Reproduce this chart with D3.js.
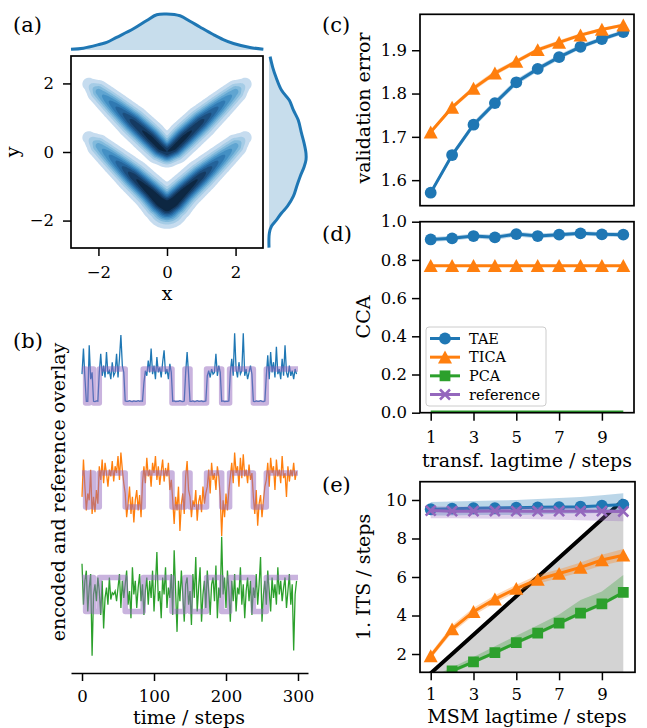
<!DOCTYPE html>
<html><head><meta charset="utf-8">
<script src="https://cdn.jsdelivr.net/npm/d3@7"></script>
<style>body{margin:0;background:#fff}svg{display:block}</style>
</head><body><svg id="fig" width="647" height="728"></svg>
<script>
// ================= DATA =================
// (a) density model: centre lines of the two V-shaped branches
const branchX = [-2.28,-2.0,-1.5,-1.0,-0.5,-0.2,0,0.2,0.5,1.0,1.5,2.0,2.28];
const upperY  = [1.98,1.76,1.32,0.88,0.42,0.12,0.0,0.12,0.42,0.88,1.32,1.76,1.98];
const upperW  = [0.13,0.38,0.62,0.85,0.95,0.95,0.9,0.95,0.95,0.85,0.62,0.38,0.13];
const upperS  = [0.14,0.17,0.19,0.21,0.21,0.2,0.19,0.2,0.21,0.21,0.19,0.17,0.14];
const lowerY  = [0.42,0.18,-0.26,-0.70,-1.16,-1.46,-1.58,-1.46,-1.16,-0.70,-0.26,0.18,0.42];
const lowerW  = [0.13,0.38,0.62,0.88,1.0,1.05,1.05,1.05,1.0,0.88,0.62,0.38,0.13];
const lowerS  = [0.14,0.17,0.19,0.21,0.22,0.24,0.27,0.24,0.22,0.21,0.19,0.17,0.14];
const kdeLevels = [0.05,0.14,0.23,0.32,0.41,0.50,0.59,0.68,0.77,0.86];
const kdeColors = ["#c6dcef","#a5cce6","#82badc","#60a5d1","#4490c4","#3079b2","#24639a","#1c4e7e","#153a61","#0d2742"];
// marginals
const margTopX = [-2.80,-2.44,-1.95,-1.76,-1.47,-0.98,-0.59,-0.30,-0.01,0.38,0.67,0.96,1.35,1.64,1.94,2.42,2.81];
const margTopD = [0.02,0.05,0.16,0.21,0.35,0.59,0.82,0.98,1.0,0.95,0.8,0.64,0.43,0.29,0.18,0.07,0.02];
const margRightY = [2.78,2.47,2.18,1.80,1.51,1.22,0.93,0.54,0.25,-0.04,-0.23,-0.43,-0.72,-1.00,-1.29,-1.58,-1.78,-1.97,-2.16,-2.36,-2.79];
const margRightD = [0.03,0.1,0.19,0.34,0.55,0.66,0.79,0.88,0.95,1.0,1.0,0.95,0.84,0.75,0.66,0.5,0.34,0.21,0.07,0.01,0.0];
const ticksXY = [-2,0,2];

// (b) time series (every 2nd step), reference state changes
const timeStep = 2;
const encTAE = [0.85,1.6,0.75,0.05,0.05,1.7,0.7,0.9,0.05,0.04,0.06,0.05,
0.9,1.45,0.8,1.1,0.75,1.5,0.85,0.95,0.7,1.2,0.8,0.9,1.45,0.75,1.3,2.0,1.1,0.9,
0.06,0.05,0.05,0.07,0.05,0.04,0.06,0.05,0.05,0.07,0.05,0.06,0.05,
0.6,0.95,0.8,1.25,0.9,1.6,0.85,1.1,0.7,1.35,0.9,1.05,0.75,1.2,1.55,0.85,1.0,0.7,1.15,0.9,
0.05,0.06,0.04,0.05,0.05,0.07,0.05,0.04,0.06,
0.9,1.5,0.85,
0.05,0.05,0.06,0.04,0.05,0.07,0.05,0.05,0.06,0.04,0.05,0.06,
0.8,0.95,0.75,1.0,0.85,0.9,1.45,0.8,1.1,0.9,
0.05,0.06,0.04,0.05,0.05,0.06,
0.9,1.3,0.8,2.05,1.0,0.75,1.2,0.85,0.95,2.05,0.8,1.0,0.7,0.9,1.1,0.85,
0.05,0.04,0.06,0.05,0.05,0.07,0.05,0.04,0.06,
0.8,1.4,0.7,1.5,0.9,1.2,0.75,1.65,0.85,1.0,0.7,1.3,0.8,1.7,0.9,0.75,1.1,0.8,0.95,0.7,1.0,0.85];
const encTICA = [0.3,1.4,0.6,-0.1,0.4,0.2,1.1,-0.2,0.3,-0.15,0.5,0.1,
1.2,0.8,1.4,0.7,1.3,1.0,0.6,1.1,0.9,1.35,0.75,1.2,1.0,1.5,0.8,1.6,1.1,0.7,
0.4,-0.3,0.1,0.6,-0.2,0.3,-0.45,0.2,0.5,-0.1,0.35,-0.3,0.7,
1.2,0.7,1.45,0.9,1.1,0.6,1.3,1.0,1.5,0.8,1.2,0.65,1.05,1.4,0.75,1.15,0.9,1.3,0.5,0.8,
0.2,-0.5,0.3,-0.1,0.6,-0.7,0.1,0.4,-0.2,
0.9,1.35,0.5,
0.3,-0.3,0.2,0.0,0.5,-0.4,0.15,0.35,-0.15,0.6,0.1,0.4,
0.6,1.1,0.4,1.3,0.8,1.0,0.5,1.2,0.9,0.3,
-0.85,0.2,-0.3,0.4,-0.1,0.5,
0.9,1.3,0.7,1.6,1.0,1.2,0.6,1.45,0.85,1.55,0.9,1.1,0.7,1.25,0.8,1.0,
0.3,-0.2,0.5,-0.55,0.1,0.35,-0.3,0.2,0.6,
0.8,1.3,0.6,1.45,1.0,1.2,0.5,1.4,0.9,1.1,0.7,1.5,0.85,1.0,0.3,1.2,0.75,1.1,0.9,1.3,0.8,1.05];
const encPCA = [1.4,0.2,0.9,1.2,0.0,0.7,1.1,-1.3,0.5,0.8,
0.3,1.0,0.6,-0.1,0.9,-0.5,0.4,0.7,0.2,1.0,
0.35,0.55,0.5,0.6,0.3,0.7,1.1,0.1,0.9,0.4,
0.8,1.2,0.2,0.6,-0.2,1.3,0.5,0.9,0.1,0.7,
1.1,0.3,0.8,-0.1,0.6,1.0,0.2,0.9,0.4,1.2,
0.0,0.8,1.75,0.3,0.6,-0.2,1.0,0.5,1.3,0.1,
0.7,0.4,1.1,-0.1,1.8,0.6,-0.6,0.9,0.3,1.2,
0.5,-0.3,0.8,1.0,0.2,0.6,-0.4,1.1,0.4,1.6,
0.0,0.7,1.3,-0.3,0.5,0.9,0.1,1.2,0.6,-0.1,
0.8,1.0,0.3,1.35,-0.2,0.7,0.4,2.2,0.5,1.0,
0.1,1.2,0.6,-0.3,0.9,0.3,1.1,0.0,0.7,0.5,
1.3,0.2,0.8,-0.2,0.6,1.0,0.3,0.9,-0.1,0.7,
0.4,1.1,0.2,0.8,1.6,-0.3,0.5,0.9,0.2,1.2,
0.6,0.0,1.0,0.4,0.8,0.2,1.3,0.5,0.9,0.3,
0.7,1.0,0.1,0.6,1.1,0.2,0.8,-1.15,0.5,0.9];
const refChangeT = [0,5,10,16,24,60,85,125,143,150,173,194,205,238,256,300];
const refState   = [1,0,1,0,1,0,1,0,1,0,1,0,1,0,1,1];
const traceOffset = [0,-3.06,-6.13];
const ticksTime = [0,100,200,300];

// (c)-(e)
const lags = [1,2,3,4,5,6,7,8,9,10];
const ticksLag = [1,3,5,7,9];
const valTAE  = [1.571,1.658,1.728,1.778,1.826,1.857,1.884,1.908,1.926,1.942];
const valTAEsd = [0.005,0.006,0.007,0.007,0.007,0.006,0.006,0.005,0.005,0.005];
const valTICA = [1.711,1.768,1.812,1.847,1.874,1.901,1.918,1.935,1.948,1.958];
const valTICAsd = [0.004,0.005,0.006,0.006,0.005,0.005,0.005,0.004,0.004,0.004];
const ticksVal = [1.6,1.7,1.8,1.9];
const ccaTAE  = [0.907,0.913,0.925,0.918,0.935,0.925,0.932,0.939,0.934,0.932];
const ccaTAEsd = [0.012,0.013,0.012,0.014,0.012,0.013,0.012,0.011,0.012,0.012];
const ccaTICA = [0.77,0.77,0.77,0.77,0.77,0.77,0.77,0.77,0.77,0.77];
const ccaPCA  = [0.004,0.004,0.004,0.004,0.004,0.004,0.004,0.004,0.004,0.004];
const ticksCCA = [0,0.2,0.4,0.6,0.8,1.0];
const itsTAE  = [9.52,9.55,9.57,9.58,9.6,9.62,9.63,9.65,9.7,9.76];
const itsTAElo = [9.2,9.2,9.22,9.22,9.22,9.25,9.28,9.3,9.32,9.35];
const itsTAEhi = [9.9,9.92,9.95,9.97,10.0,10.05,10.1,10.15,10.25,10.35];
const itsTICA = [1.9,3.3,4.2,4.85,5.4,5.87,6.18,6.5,6.88,7.13];
const itsTICAlo = [1.75,3.1,4.0,4.65,5.2,5.65,5.95,6.25,6.6,6.85];
const itsTICAhi = [2.05,3.5,4.4,5.05,5.6,6.1,6.4,6.75,7.15,7.45];
const itsPCA  = [0.6,1.12,1.59,2.07,2.59,3.08,3.6,4.12,4.6,5.2];
const itsPCAlo = [0.5,1.02,1.5,1.97,2.49,2.98,3.5,4.02,4.5,5.1];
const itsPCAhi = [0.8,1.3,1.85,2.4,2.95,3.5,4.05,4.8,5.25,6.1];
const itsRef  = [9.45,9.42,9.42,9.43,9.42,9.42,9.42,9.42,9.42,9.40];
const itsReflo = [9.05,9.05,9.04,9.03,9.02,9.0,8.98,8.95,8.92,8.9];
const itsRefhi = [9.68,9.66,9.65,9.65,9.64,9.63,9.62,9.6,9.55,9.5];
const ticksITS = [2,4,6,8,10];
const seriesNames = ["TAE","TICA","PCA","reference"];
const seriesColors = ["#1f77b4","#ff7f0e","#2ca02c","#9467bd"];
const seriesMarkers = ["circle","triangle","square","x"];

// ================= DRAWING =================
const svg = d3.select("#fig");
const FONT = '"DejaVu Serif", serif';
const TICKFS = 16.5, LABFS = 19, PANFS = 21;
const LW = 3;
let clipId = 0;
function clip(x0,y0,x1,y1){
  const id = "clip"+(clipId++);
  svg.append("clipPath").attr("id",id).append("rect").attr("x",x0).attr("y",y0).attr("width",x1-x0).attr("height",y1-y0);
  return "url(#"+id+")";
}
function frame(x0,y0,x1,y1){
  svg.append("rect").attr("x",x0).attr("y",y0).attr("width",x1-x0).attr("height",y1-y0)
    .attr("fill","none").attr("stroke","#000").attr("stroke-width",1.7);
}
function styleAxis(g, keepDomain){
  g.attr("font-family",FONT).attr("font-size",TICKFS);
  if(!keepDomain) g.select(".domain").remove();
  else g.select(".domain").attr("stroke","#000").attr("stroke-width",1.7);
  g.selectAll(".tick line").attr("stroke","#000").attr("stroke-width",1.5);
  g.selectAll(".tick text").attr("fill","#000");
}
function text(x,y,s,fs,anchor,rot){
  const t = svg.append("text").attr("font-family",FONT).attr("font-size",fs).attr("fill","#000")
    .attr("text-anchor",anchor||"start").text(s);
  if(rot) t.attr("transform",`translate(${x},${y}) rotate(-90)`);
  else t.attr("x",x).attr("y",y);
  return t;
}
const shapePath = {
  triangle: "M0,-6.6L7,6.3L-7,6.3Z",
  square: "M-5.4,-5.4H5.4V5.4H-5.4Z",
  x: "M-5,-5L5,5M-5,5L5,-5"
};
function marker(g, type, color, cx, cy){
  if(type==="circle") g.append("circle").attr("cx",cx).attr("cy",cy).attr("r",5.9).attr("fill",color);
  else if(type==="x") g.append("path").attr("transform",`translate(${cx},${cy})`).attr("d",shapePath.x)
      .attr("stroke",color).attr("stroke-width",2.6).attr("fill","none");
  else g.append("path").attr("transform",`translate(${cx},${cy})`).attr("d",shapePath[type]).attr("fill",color);
}
function series(g, xS, yS, xs, ys, k, lo, hi, noMarkers){
  const color = seriesColors[k];
  if(lo){
    g.append("path").datum(xs.map((x,i)=>[x,lo[i],hi[i]]))
      .attr("d", d3.area().x(d=>xS(d[0])).y0(d=>yS(d[1])).y1(d=>yS(d[2])))
      .attr("fill",color).attr("fill-opacity",0.3);
  }
  g.append("path").datum(xs.map((x,i)=>[x,ys[i]]))
    .attr("d", d3.line().x(d=>xS(d[0])).y(d=>yS(d[1])))
    .attr("fill","none").attr("stroke",color).attr("stroke-width",LW);
  if(!noMarkers) xs.forEach((x,i)=>marker(g, seriesMarkers[k], color, xS(x), yS(ys[i])));
}

// ---------- (a) ----------
{
  const L=71,R=263,T=56,B=248;
  const xA = d3.scaleLinear().domain([-2.8,2.8]).range([L,R]);
  const yA = d3.scaleLinear().domain([-2.8,2.8]).range([B,T]);
  const n = 170, m = 170;
  const dx = 5.6/(n-1), dy = 5.6/(m-1);
  function branch(px,py,bx,by,bw,bs){
    let best=0;
    for(let k=0;k<bx.length-1;k++){
      const ax=bx[k],ay=by[k],ex=bx[k+1]-ax,ey=by[k+1]-ay;
      let t=((px-ax)*ex+(py-ay)*ey)/(ex*ex+ey*ey);
      t=Math.max(0,Math.min(1,t));
      const qx=ax+t*ex,qy=ay+t*ey;
      const d2=(px-qx)*(px-qx)+(py-qy)*(py-qy);
      const w=bw[k]+t*(bw[k+1]-bw[k]);
      const s=bs[k]+t*(bs[k+1]-bs[k]);
      const v=w*Math.exp(-d2/(2*s*s));
      if(v>best) best=v;
    }
    return best;
  }
  const vals = new Array(n*m);
  for(let j=0;j<m;j++){
    const py = 2.8 - j*dy;
    for(let i=0;i<n;i++){
      const px = -2.8 + i*dx;
      vals[i+j*n] = branch(px,py,branchX,upperY,upperW,upperS) + branch(px,py,branchX,lowerY,lowerW,lowerS);
    }
  }
  const vmax = d3.max(vals);
  const contours = d3.contours().size([n,m]).thresholds(kdeLevels.map(l=>l*vmax))(vals);
  const proj = d3.geoTransform({point(gx,gy){ this.stream.point(xA(-2.8+(gx-0.5)*dx), yA(2.8-(gy-0.5)*dy)); }});
  const path = d3.geoPath(proj);
  const g = svg.append("g").attr("clip-path",clip(L,T,R,B));
  g.selectAll("path").data(contours).enter().append("path")
    .attr("d",path).attr("fill",(d,i)=>kdeColors[i]).attr("stroke","none");
  frame(L,T,R,B);
  const ax = svg.append("g").attr("transform",`translate(0,${B})`)
    .call(d3.axisBottom(xA).tickValues(ticksXY).tickFormat(d3.format("d")).tickSize(8).tickPadding(10).tickSizeOuter(0));
  styleAxis(ax,false);
  const ay = svg.append("g").attr("transform",`translate(${L},0)`)
    .call(d3.axisLeft(yA).tickValues(ticksXY).tickFormat(d3.format("d")).tickSize(8).tickPadding(9).tickSizeOuter(0));
  styleAxis(ay,false);
  text(167,300,"x",LABFS,"middle");
  text(19,152,"y",LABFS,"middle",true);
  // top marginal
  const yT = d3.scaleLinear().domain([0,1]).range([50,14]);
  svg.append("path").datum(margTopX.map((x,i)=>[x,margTopD[i]]))
    .attr("d",d3.area().curve(d3.curveCatmullRom).x(d=>xA(d[0])).y0(yT(0)).y1(d=>yT(d[1])))
    .attr("fill","#1f77b4").attr("fill-opacity",0.25);
  svg.append("path").datum(margTopX.map((x,i)=>[x,margTopD[i]]))
    .attr("d",d3.line().curve(d3.curveCatmullRom).x(d=>xA(d[0])).y(d=>yT(d[1])))
    .attr("fill","none").attr("stroke","#1f77b4").attr("stroke-width",LW);
  // right marginal
  const xRm = d3.scaleLinear().domain([0,1]).range([269,306]);
  svg.append("path").datum(margRightY.map((y,i)=>[y,margRightD[i]]))
    .attr("d",d3.area().curve(d3.curveCatmullRom).y(d=>yA(d[0])).x0(xRm(0)).x1(d=>xRm(d[1])))
    .attr("fill","#1f77b4").attr("fill-opacity",0.25);
  svg.append("path").datum(margRightY.map((y,i)=>[y,margRightD[i]]))
    .attr("d",d3.line().curve(d3.curveCatmullRom).y(d=>yA(d[0])).x(d=>xRm(d[1])))
    .attr("fill","none").attr("stroke","#1f77b4").attr("stroke-width",LW);
  text(13,32,"(a)",PANFS,"start");
}

// ---------- (b) ----------
{
  const xB = d3.scaleLinear().domain([-15.3,313.9]).range([71,308]);
  const yB = d3.scaleLinear().domain([-7.94,2.0]).range([673,335]);
  const traces = [encTAE, encTICA, encPCA];
  const g = svg.append("g");
  traces.forEach((tr,k)=>{
    g.append("path").datum(tr.map((v,i)=>[i*timeStep, v+traceOffset[k]]))
      .attr("d",d3.line().x(d=>xB(d[0])).y(d=>yB(d[1])))
      .attr("fill","none").attr("stroke",seriesColors[k]).attr("stroke-width",1.3);
    g.append("path").datum(refChangeT.map((t,i)=>[t, refState[i]+traceOffset[k]]))
      .attr("d",d3.line().curve(d3.curveStepAfter).x(d=>xB(d[0])).y(d=>yB(d[1])))
      .attr("fill","none").attr("stroke","#9467bd").attr("stroke-opacity",0.5)
      .attr("stroke-width",5.5).attr("stroke-linejoin","round");
  });
  const ax = svg.append("g").attr("transform","translate(0,673)")
    .call(d3.axisBottom(xB).tickValues(ticksTime).tickSize(8).tickPadding(9).tickSizeOuter(0));
  styleAxis(ax,true);
  text(189,724,"time / steps",LABFS,"middle");
  text(65,492,"encoded and reference overlay",LABFS,"middle",true);
  text(13,348,"(b)",PANFS,"start");
}

// ---------- (c) ----------
const xL = d3.scaleLinear().domain([0.5,10.5]).range([420,634]);
{
  const T=14.3,B=205.7;
  const yC = d3.scaleLinear().domain([1.541,1.983]).range([B,T]);
  const g = svg.append("g").attr("clip-path",clip(420,T,634,B));
  series(g,xL,yC,lags,valTAE,0,valTAE.map((v,i)=>v-valTAEsd[i]),valTAE.map((v,i)=>v+valTAEsd[i]));
  series(g,xL,yC,lags,valTICA,1,valTICA.map((v,i)=>v-valTICAsd[i]),valTICA.map((v,i)=>v+valTICAsd[i]));
  frame(420,T,634,B);
  const ay = svg.append("g").attr("transform","translate(420,0)")
    .call(d3.axisLeft(yC).tickValues(ticksVal).tickFormat(d3.format(".1f")).tickSize(8).tickPadding(5).tickSizeOuter(0));
  styleAxis(ay,false);
  text(370,108,"validation error",LABFS,"middle",true);
  text(322,32,"(c)",PANFS,"start");
}

// ---------- (d) ----------
{
  const T=221.7,B=412.7;
  const yD = d3.scaleLinear().domain([0,1]).range([B,T]);
  const g = svg.append("g").attr("clip-path",clip(420,T,634,B));
  series(g,xL,yD,lags,ccaTAE,0,ccaTAE.map((v,i)=>v-ccaTAEsd[i]),ccaTAE.map((v,i)=>v+ccaTAEsd[i]));
  series(g,xL,yD,lags,ccaTICA,1);
  series(g,xL,yD,lags,ccaPCA,2,null,null,true);
  frame(420,T,634,B);
  const ay = svg.append("g").attr("transform","translate(420,0)")
    .call(d3.axisLeft(yD).tickValues(ticksCCA).tickFormat(d3.format(".1f")).tickSize(8).tickPadding(5).tickSizeOuter(0));
  styleAxis(ay,false);
  const ax = svg.append("g").attr("transform",`translate(0,${B})`)
    .call(d3.axisBottom(xL).tickValues(ticksLag).tickSize(8).tickPadding(11).tickSizeOuter(0));
  styleAxis(ax,false);
  text(370,317,"CCA",LABFS,"middle",true);
  text(527,467,"transf. lagtime / steps",LABFS,"middle");
  text(322,241,"(d)",PANFS,"start");
  // legend
  const lg = svg.append("g");
  lg.append("rect").attr("x",426).attr("y",327).attr("width",120).attr("height",79).attr("rx",3)
    .attr("fill","#fff").attr("fill-opacity",0.8).attr("stroke","#ccc").attr("stroke-width",1);
  const rowY = d3.scalePoint().domain(seriesNames).range([338.5,394.5]);
  seriesNames.forEach((nm,k)=>{
    const yy = rowY(nm);
    lg.append("line").attr("x1",430).attr("x2",460).attr("y1",yy).attr("y2",yy)
      .attr("stroke",seriesColors[k]).attr("stroke-width",LW);
    marker(lg, seriesMarkers[k], seriesColors[k], 445, yy);
    lg.append("text").attr("x",469).attr("y",yy).attr("dy","0.35em").attr("font-family",FONT)
      .attr("font-size",14.5).attr("fill","#000").text(nm);
  });
}

// ---------- (e) ----------
{
  const T=481.7,B=672.3;
  const yE = d3.scaleLinear().domain([1.05,10.95]).range([B,T]);
  const g = svg.append("g").attr("clip-path",clip(420,T,635,B));
  g.append("path").datum(lags)
    .attr("d",d3.area().x(d=>xL(d)).y0(yE(1.05)).y1(d=>yE(d)))
    .attr("fill","#d3d3d3");
  g.append("path").datum(lags)
    .attr("d",d3.line().x(d=>xL(d)).y(d=>yE(d)))
    .attr("fill","none").attr("stroke","#000").attr("stroke-width",3.8);
  series(g,xL,yE,lags,itsTAE,0,itsTAElo,itsTAEhi);
  series(g,xL,yE,lags,itsTICA,1,itsTICAlo,itsTICAhi);
  series(g,xL,yE,lags,itsPCA,2,itsPCAlo,itsPCAhi);
  series(g,xL,yE,lags,itsRef,3,itsReflo,itsRefhi);
  frame(420,T,635,B);
  const ay = svg.append("g").attr("transform","translate(420,0)")
    .call(d3.axisLeft(yE).tickValues(ticksITS).tickSize(8).tickPadding(5).tickSizeOuter(0));
  styleAxis(ay,false);
  const ax = svg.append("g").attr("transform",`translate(0,${B})`)
    .call(d3.axisBottom(xL).tickValues(ticksLag).tickSize(8).tickPadding(8).tickSizeOuter(0));
  styleAxis(ax,false);
  text(370,577,"1. ITS / steps",LABFS,"middle",true);
  text(527,723,"MSM lagtime / steps",LABFS,"middle");
  text(322,492,"(e)",PANFS,"start");
}
</script></body></html>
